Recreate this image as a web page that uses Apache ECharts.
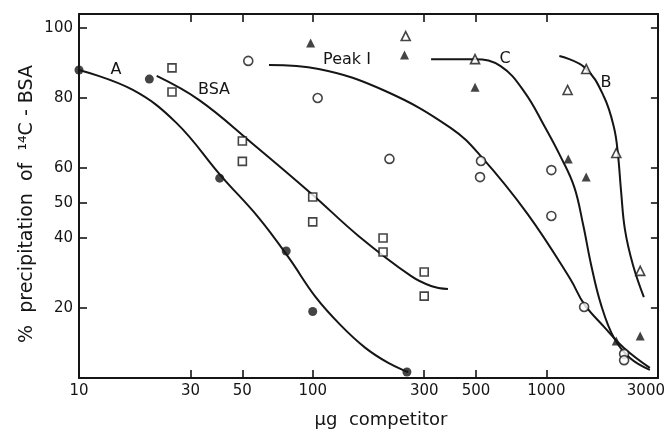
<!DOCTYPE html>
<html>
<head>
<meta charset="utf-8">
<script src="https://cdn.jsdelivr.net/npm/echarts@6/dist/echarts.min.js"></script>
<style>html,body{margin:0;padding:0;background:#fff;}#c{width:668px;height:431px;}</style>
</head>
<body>
<div id="c"></div>
<script>
// Tick labels
const xTicks = [10, 30, 50, 100, 300, 500, 1000, 3000];
const xTopTicks = [30, 50, 100, 300, 500, 1000];
const yTicks = [20, 40, 50, 60, 80, 100];

// Data points [µg competitor, % precipitation]
const pointsA = [[10, 88], [20, 85.4], [40, 57.1], [77, 36.3], [100, 19], [253, 1.7]];
const pointsBSA = [[25, 88.6], [25, 81.7], [50, 67.7], [50, 61.9], [100, 51.7], [100, 44.6], [200, 40], [200, 36], [300, 30.3], [300, 23.4]];
const pointsPeakI = [[53, 90.6], [105, 80], [213, 62.6], [525, 62], [520, 57.4], [1050, 59.4], [1050, 46.3], [1450, 20.3], [2150, 6.9], [2150, 5.1]];
const pointsC = [[98, 95.7], [247, 92.3], [495, 83.1], [1240, 62.6], [1480, 57.4], [1990, 10.6], [2520, 12]];
const pointsB = [[250, 97.7], [495, 91.1], [1232, 82.3], [1480, 88.3], [1990, 64.3], [2520, 30.6]];

// Fitted curves
const curveA = [[10, 88], [17, 82.3], [26.1, 72.9], [40.6, 57.7], [58.9, 45.7], [79.1, 34.3], [103, 23.1], [131.6, 15.1], [168, 8.6], [210.6, 4.3], [256, 1.7]];
const curveBSA = [[21.5, 86.3], [32.7, 79.4], [55, 67.1], [99, 52.6], [157, 40.6], [264, 29.1], [321, 26.3], [379, 25.4]];
const curvePeakI = [[65, 89.4], [106, 88.3], [204.5, 82], [390.5, 71.4], [524, 63.4], [830, 46.9], [1265, 28.3], [1451, 21.1], [1765, 14.6], [2147, 8.6], [2771, 2.9]];
const curveC = [[321, 91.1], [494, 91.1], [637, 89.1], [806, 81.7], [980, 72], [1147, 63.4], [1315, 54.6], [1437, 43.7], [1554, 32.3], [1714, 20.9], [1948, 11.4], [2278, 5.7], [2771, 2.3]];
const curveB = [[1136, 92], [1466, 88.6], [1765, 80.3], [1948, 71.4], [2025, 63.7], [2085, 53.7], [2169, 42.3], [2346, 32.3], [2612, 23.1]];

const INK = '#151515';
const FONT = 'DejaVu Sans';

const chart = echarts.init(document.getElementById('c'), null, {renderer: 'canvas'});

function curve(data) {
  return {type: 'line', data: data, smooth: 0.4, showSymbol: false, symbol: 'none',
    lineStyle: {color: INK, width: 2}, z: 2, silent: true, animation: false};
}
function pts(data, symbol, filled, size) {
  return {type: 'scatter', data: data, symbol: symbol, symbolSize: size,
    itemStyle: filled ? {color: INK} : {color: '#fff', borderColor: INK, borderWidth: 1.6},
    z: 3, animation: false};
}

const axisLine = {show: true, onZero: false, lineStyle: {color: INK, width: 2}};
const tickStyle = {lineStyle: {color: INK, width: 1.6}};

chart.setOption({
  animation: false,
  grid: {left: 79, right: 7, top: 14, bottom: 53},
  xAxis: [
    {type: 'log', logBase: 10, min: 10, max: 3000, position: 'bottom',
      axisLine: axisLine,
      axisTick: Object.assign({show: true, inside: true, length: 8, customValues: xTicks}, tickStyle),
      minorTick: {show: false}, splitLine: {show: false}, minorSplitLine: {show: false},
      axisLabel: {customValues: xTicks, color: INK, fontFamily: FONT, fontSize: 15, margin: 6,
        formatter: v => (Math.round(v) === 3000 ? '{r|3000}' : String(Math.round(v))),
        rich: {r: {color: INK, fontFamily: FONT, fontSize: 15, padding: [0, 24, 0, 0]}}}
    },
    {type: 'log', logBase: 10, min: 10, max: 3000, position: 'top',
      axisLine: axisLine,
      axisTick: Object.assign({show: true, inside: true, length: 8, customValues: xTopTicks}, tickStyle),
      minorTick: {show: false}, splitLine: {show: false}, axisLabel: {show: false}
    }
  ],
  yAxis: [
    {type: 'value', min: 0, max: 104, position: 'left',
      axisLine: axisLine,
      axisTick: Object.assign({show: true, inside: true, length: 8, customValues: yTicks}, tickStyle),
      splitLine: {show: false},
      axisLabel: {customValues: yTicks, color: INK, fontFamily: FONT, fontSize: 15, margin: 6}
    },
    {type: 'value', min: 0, max: 104, position: 'right',
      axisLine: axisLine,
      axisTick: Object.assign({show: true, inside: true, length: 7, customValues: yTicks}, tickStyle),
      splitLine: {show: false}, axisLabel: {show: false}
    }
  ],
  series: [
    curve(curveA), curve(curveBSA), curve(curvePeakI), curve(curveC), curve(curveB),
    pts(pointsA, 'circle', true, 9),
    pts(pointsBSA, 'rect', false, 8),
    pts(pointsPeakI, 'circle', false, 9),
    pts(pointsC, 'triangle', true, 9),
    pts(pointsB, 'triangle', false, 9)
  ],
  graphic: [
    {type: 'text', x: 116, y: 70, style: {text: 'A', font: '16px "DejaVu Sans"', fill: INK, align: 'center', verticalAlign: 'middle'}},
    {type: 'text', x: 214, y: 90, style: {text: 'BSA', font: '16px "DejaVu Sans"', fill: INK, align: 'center', verticalAlign: 'middle'}},
    {type: 'text', x: 347, y: 60, style: {text: 'Peak I', font: '16px "DejaVu Sans"', fill: INK, align: 'center', verticalAlign: 'middle'}},
    {type: 'text', x: 505, y: 59, style: {text: 'C', font: '16px "DejaVu Sans"', fill: INK, align: 'center', verticalAlign: 'middle'}},
    {type: 'text', x: 606, y: 83, style: {text: 'B', font: '16px "DejaVu Sans"', fill: INK, align: 'center', verticalAlign: 'middle'}},
    {type: 'text', x: 381, y: 420, style: {text: 'μg  competitor', font: '18px "DejaVu Sans"', fill: INK, align: 'center', verticalAlign: 'middle'}},
    {type: 'text', x: 27, y: 204, rotation: Math.PI / 2,
      style: {text: '%  precipitation  of  ¹⁴C - BSA', font: '19px "DejaVu Sans"', fill: INK, align: 'center', verticalAlign: 'middle'}}
  ]
});
</script>
</body>
</html>
